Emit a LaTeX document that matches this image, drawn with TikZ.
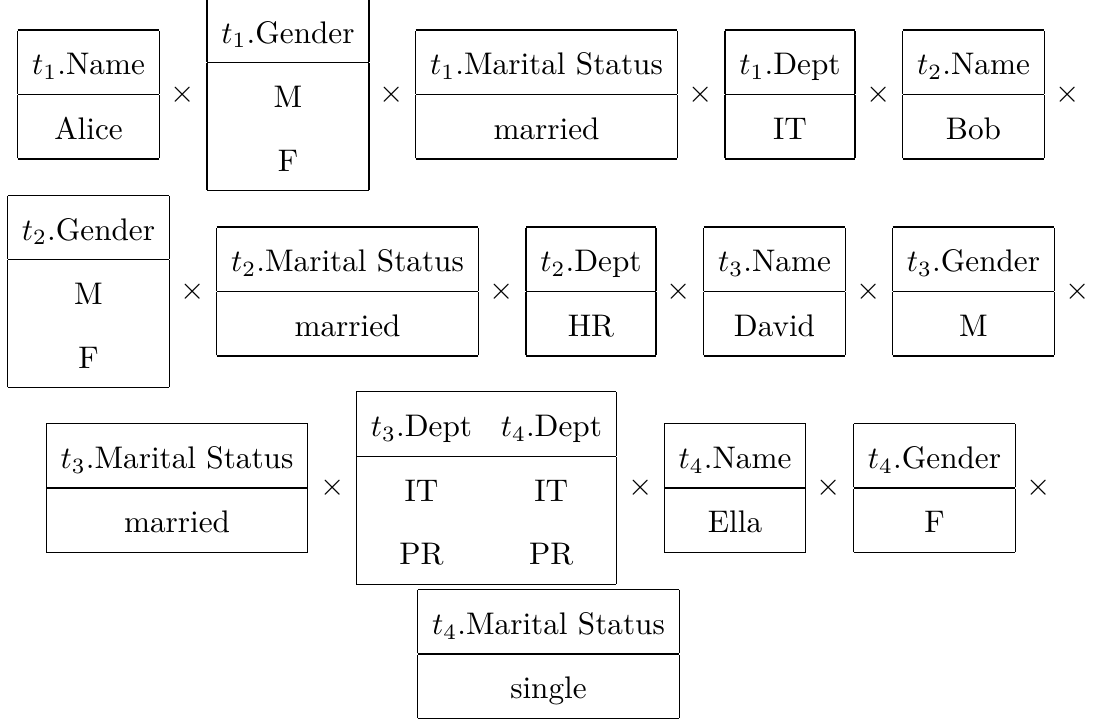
\documentclass[tikz,border=0pt]{standalone}
\usepackage{tikz}
\usepackage{amsmath}
\usepackage{amssymb}
\renewcommand{\arraystretch}{1.69}
\setlength{\tabcolsep}{4.6pt}

\begin{document}
\begin{tikzpicture}[x=0.3203pt,y=-0.3203pt,tbl/.style={inner sep=0pt},op/.style={inner sep=0pt}]
    \useasboundingbox (0,0) rectangle (1095,722);
    \node[tbl] (nameA) at (88.5,94.5) {\begin{tabular}{|c|}\hline $t_1$.Name\\\hline Alice\\\hline\end{tabular}};
    \node[op] (x1) at (183,94.5) {$\times$};
    \node[tbl] (genA) at (288,94.5) {\begin{tabular}{|c|}\hline $t_1$.Gender\\\hline M\\F\\\hline\end{tabular}};
    \node[op] (x2) at (392,94.5) {$\times$};
    \node[tbl] (msA) at (546.5,94.5) {\begin{tabular}{|c|}\hline $t_1$.Marital Status\\\hline married\\\hline\end{tabular}};
    \node[op] (x3) at (701,94.5) {$\times$};
    \node[tbl] (deptA) at (790,94.5) {\begin{tabular}{|c|}\hline $t_1$.Dept\\\hline IT\\\hline\end{tabular}};
    \node[op] (x4) at (879,94.5) {$\times$};
    \node[tbl] (nameB) at (973.5,94.5) {\begin{tabular}{|c|}\hline $t_2$.Name\\\hline Bob\\\hline\end{tabular}};
    \node[op] (x5) at (1068,94.5) {$\times$};%row 1%
    \node[tbl] (genB) at (88.5,291.5) {\begin{tabular}{|c|}\hline $t_2$.Gender\\\hline M\\F\\\hline\end{tabular}};
    \node[op] (x6) at (193,291.5) {$\times$};
    \node[tbl] (msB) at (347.5,291.5) {\begin{tabular}{|c|}\hline $t_2$.Marital Status\\\hline married\\\hline\end{tabular}};
    \node[op] (x7) at (502,291.5) {$\times$};
    \node[tbl] (deptB) at (591,291.5) {\begin{tabular}{|c|}\hline $t_2$.Dept\\\hline HR\\\hline\end{tabular}};
    \node[op] (x8) at (679,291.5) {$\times$};
    \node[tbl] (nameC) at (774.5,291.5) {\begin{tabular}{|c|}\hline $t_3$.Name\\\hline David\\\hline\end{tabular}};
    \node[op] (x9) at (869,291.5) {$\times$};
    \node[tbl] (genC) at (973.5,291.5) {\begin{tabular}{|c|}\hline $t_3$.Gender\\\hline M\\\hline\end{tabular}};
    \node[op] (x10) at (1078,291.5) {$\times$};%row 2%
    \node[tbl] (msC) at (177,488) {\begin{tabular}{|c|}\hline $t_3$.Marital Status\\\hline married\\\hline\end{tabular}};
    \node[op] (x11) at (332.5,488) {$\times$};
    \node[tbl] (deptCD) at (486.4,488) {\begin{tabular}{|cc|}\hline $t_3$.Dept & $t_4$.Dept\\\hline IT & IT\\PR & PR\\\hline\end{tabular}};
    \node[op] (x12) at (640.6,488) {$\times$};
    \node[tbl] (nameD) at (735,488) {\begin{tabular}{|c|}\hline $t_4$.Name\\\hline Ella\\\hline\end{tabular}};
    \node[op] (x13) at (829,488) {$\times$};
    \node[tbl] (genD) at (934.5,488) {\begin{tabular}{|c|}\hline $t_4$.Gender\\\hline F\\\hline\end{tabular}};
    \node[op] (x14) at (1039,488) {$\times$};%row 3%
    \node[tbl] (msD) at (548.5,654) {\begin{tabular}{|c|}\hline $t_4$.Marital Status\\\hline single\\\hline\end{tabular}};
\end{tikzpicture}
\end{document}
